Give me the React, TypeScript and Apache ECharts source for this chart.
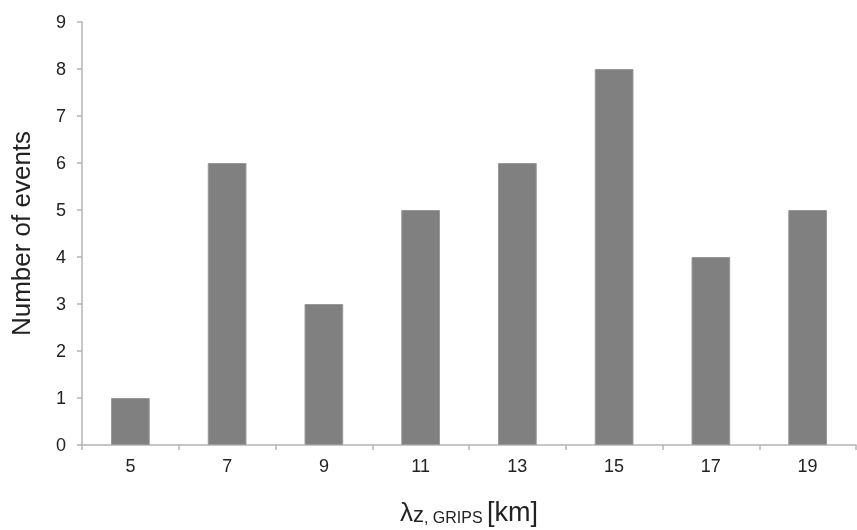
import React, { useEffect, useRef } from "react";
import * as echarts from "echarts";

const categories = ["5", "7", "9", "11", "13", "15", "17", "19"];
const events = [1, 6, 3, 5, 6, 8, 4, 5];
const yTicks = [0, 9, 1];

export default function App() {
  const ref = useRef<HTMLDivElement>(null);
  useEffect(() => {
    if (!ref.current) return;
    const chart = echarts.init(ref.current, null, { renderer: "svg" });
    const font = "'Liberation Sans', Arial, sans-serif";
    chart.setOption({
      animation: false,
      grid: { left: 80, top: 22, right: 1, bottom: 83, containLabel: false },
      xAxis: {
        type: "category",
        data: categories,
        axisLine: { lineStyle: { color: "#b3b3b3", width: 1.5 } },
        axisTick: { show: true, inside: false, length: 5, lineStyle: { color: "#b3b3b3", width: 1.5 } },
        axisLabel: { color: "#222", fontSize: 18, fontFamily: font, margin: 12 },
        name: "{a|λ}{b|z}{c|, GRIPS }{d|[km]}",
        nameLocation: "middle",
        nameGap: 52,
        nameTextStyle: {
          fontFamily: font,
          color: "#222",
          verticalAlign: "top",
          rich: {
            a: { fontSize: 26, fontFamily: font, color: "#222", verticalAlign: "bottom", lineHeight: 28 },
            b: { fontSize: 22, fontFamily: font, color: "#222", verticalAlign: "bottom", lineHeight: 26 },
            c: { fontSize: 16, fontFamily: font, color: "#222", verticalAlign: "bottom", lineHeight: 24 },
            d: { fontSize: 27, fontFamily: font, color: "#222", verticalAlign: "bottom", lineHeight: 28 },
          },
        },
      },
      yAxis: {
        type: "value",
        min: yTicks[0],
        max: yTicks[1],
        interval: yTicks[2],
        axisLine: { show: true, lineStyle: { color: "#b3b3b3", width: 1.5 } },
        axisTick: { show: true, inside: false, length: 5, lineStyle: { color: "#b3b3b3", width: 1.5 } },
        splitLine: { show: false },
        axisLabel: { color: "#222", fontSize: 18, fontFamily: font, margin: 16 },
        name: "Number of events",
        nameLocation: "middle",
        nameGap: 48,
        nameTextStyle: { fontSize: 26, fontFamily: font, color: "#222" },
      },
      series: [
        {
          type: "bar",
          data: events,
          barWidth: "40%",
          itemStyle: { color: "#808080", borderColor: "#999", borderWidth: 1 },
        },
      ],
    });
    return () => chart.dispose();
  }, []);
  return (
    <div
      ref={ref}
      style={{ width: 857, height: 530, position: "fixed", left: 0, top: 0, overflow: "hidden" }}
    />
  );
}
